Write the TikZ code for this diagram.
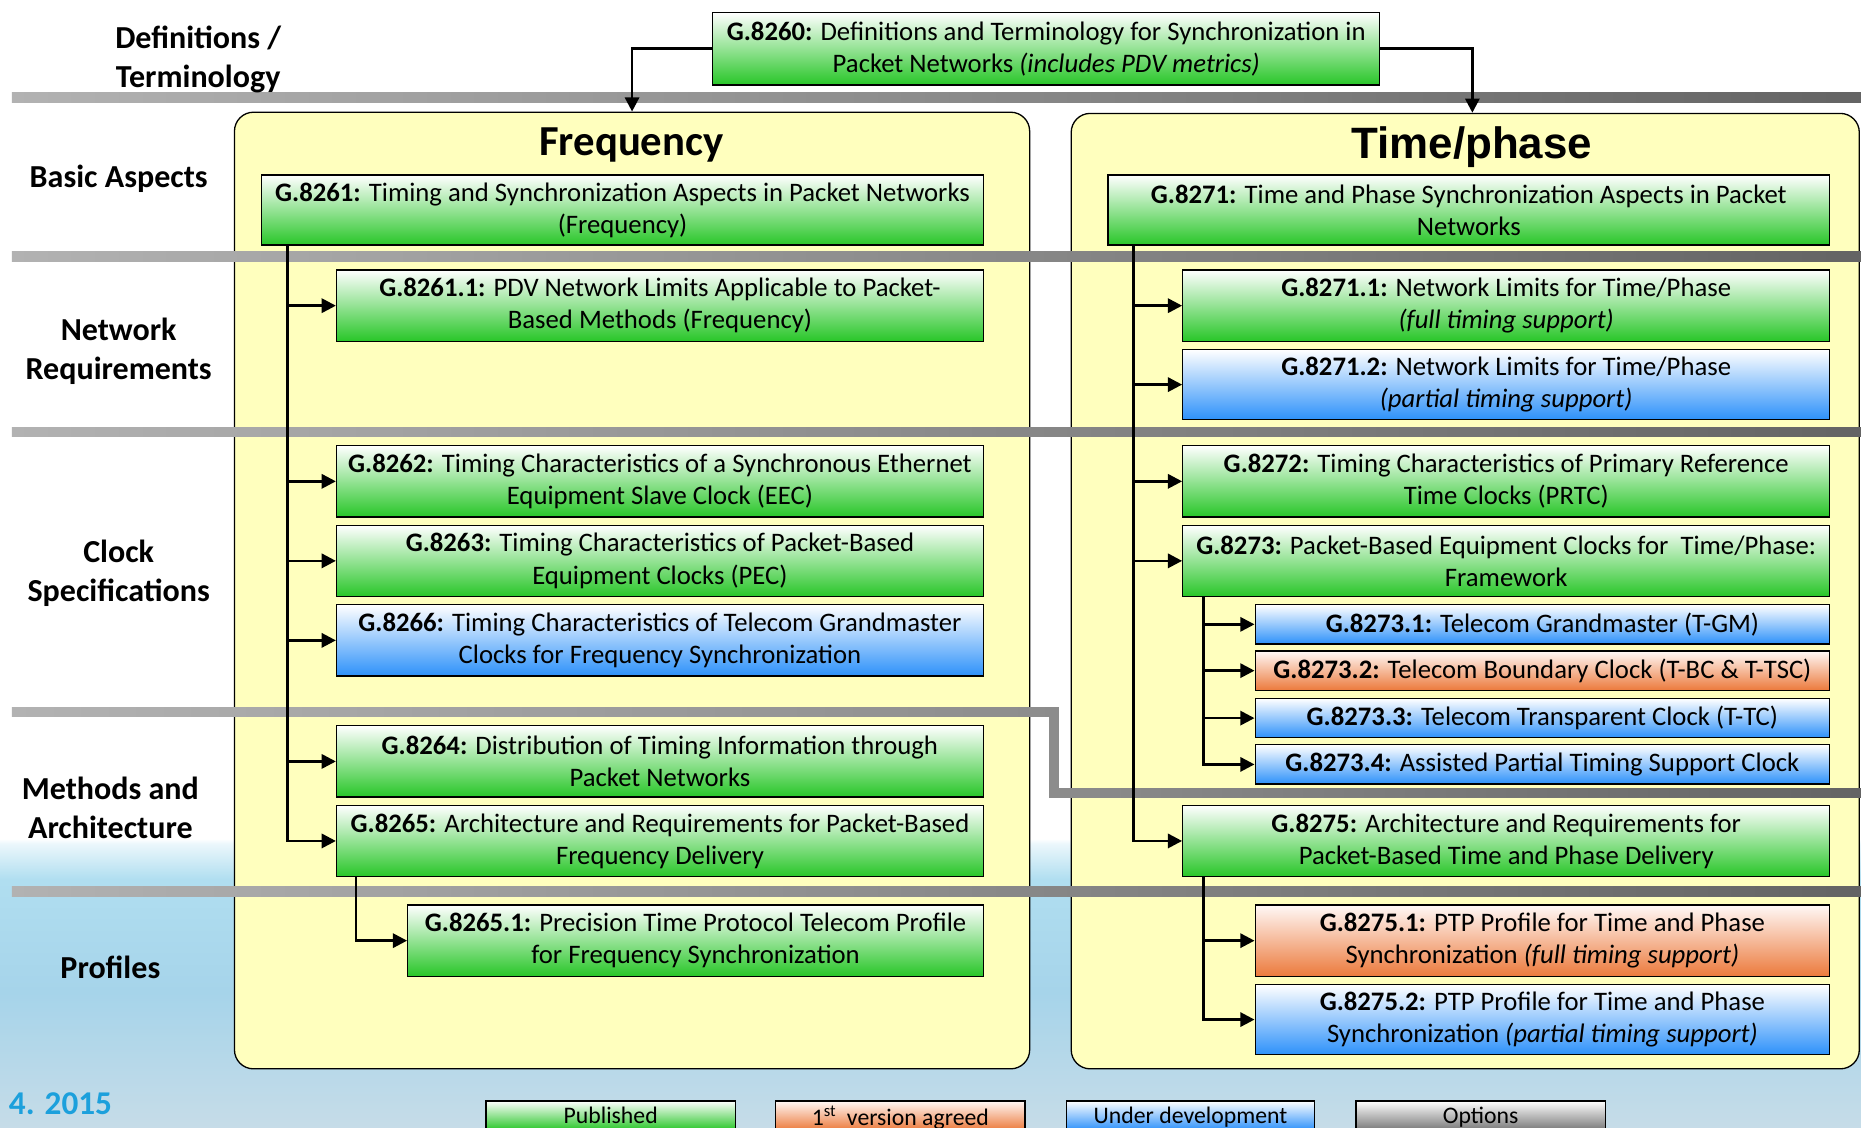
\documentclass[tikz,border=0pt]{standalone}
\usepackage{fontspec}
\setmainfont{Carlito}
\newfontfamily\arialfont{Liberation Sans}
\usetikzlibrary{arrows.meta}

\definecolor{gbot}{RGB}{40,198,40}
\definecolor{bbot}{RGB}{45,145,250}
\definecolor{obot}{RGB}{236,122,60}
\definecolor{otop}{RGB}{255,248,246}
\definecolor{kbot}{RGB}{120,120,120}
\definecolor{panelyellow}{RGB}{255,255,190}
\definecolor{barlight}{RGB}{178,178,178}
\definecolor{barmid}{RGB}{140,140,140}
\definecolor{bardark}{RGB}{100,100,100}
\definecolor{dateblue}{RGB}{28,160,220}
\definecolor{waterA}{RGB}{236,247,252}
\definecolor{waterB}{RGB}{176,222,240}
\definecolor{waterC}{RGB}{166,212,234}
\definecolor{waterD}{RGB}{198,220,232}

% sky/water backdrop: white at the top, light blue towards the bottom
\pgfdeclareverticalshading{backdrop}{100bp}{%
  color(0bp)=(waterD); color(25bp)=(waterD); color(31bp)=(waterC);
  color(36bp)=(waterB); color(37.6bp)=(waterA); color(37.8bp)=(white);
  color(100bp)=(white)}

\begin{document}
\begin{tikzpicture}[x=1pt,y=-1pt,
  box/.style={draw=black, line width=1.1pt, align=center, inner sep=0pt,
    anchor=north west, font=\fontsize{22.5}{27}\selectfont},
  gbox/.style={box, top color=white, bottom color=gbot},
  bbox/.style={box, top color=white, bottom color=bbot},
  obox/.style={box, top color=otop, bottom color=obot},
  kbox/.style={box, top color=white, bottom color=kbot},
  legbox/.style={minimum height=24.5pt, text depth=0pt, font=\fontsize{20}{24}\selectfont},
  lbl/.style={align=center, font=\fontsize{27}{33}\selectfont\bfseries},
  panel/.style={draw=black, line width=1.1pt, fill=panelyellow,
    rounded corners=16pt, anchor=north west, inner sep=0pt},
  arr/.style={line width=2.2pt, -{Triangle[length=12pt,width=12pt]}},
  title/.style={font=\fontsize{36}{42}\selectfont\bfseries}]

\clip (0,0) rectangle (1568,950);
\shade[shading=backdrop] (0,0) rectangle (1568,950);

% column panels
\node[panel, minimum width=670pt, minimum height=806pt] (freqpanel) at (197,94) {};
\node[panel, minimum width=664pt, minimum height=805pt] (timepanel) at (902,95) {};
\node[title] (freqtitle) at (532,122) {Frequency};
\node[font=\fontsize{37}{42}\selectfont\arialfont\bfseries] (timetitle) at (1240,124) {Time/phase};

% layer separators
\shade[left color=barlight, right color=bardark] (10,78) rectangle (1568,86);
\shade[left color=barlight, right color=bardark] (10,212) rectangle (1568,220);
\shade[left color=barlight, right color=bardark] (10,360) rectangle (1568,368);
\shade[left color=barlight, right color=barmid] (10,596) rectangle (892,604);
\fill[barmid] (884,596) rectangle (892,672);
\shade[left color=barmid, right color=bardark] (884,664) rectangle (1568,672);
\shade[left color=barlight, right color=bardark] (10,747) rectangle (1568,755);

% layer names
\node[lbl] (ldef) at (167,50) {Definitions /\\Terminology};
\node[lbl] (lbasic) at (100,151) {Basic Aspects};
\node[lbl] (lnet) at (100,296) {Network\\Requirements};
\node[lbl] (lclock) at (100,483) {Clock\\Specifications};
\node[lbl] (lmeth) at (93,681) {Methods and\\Architecture};
\node[lbl] (lprof) at (93,815) {Profiles};
\node[anchor=west, text=dateblue, font=\fontsize{28}{32}\selectfont\bfseries] (date) at (4,930) {4. 2015};

% definitions
\node[gbox, minimum width=562pt, minimum height=61pt] (n8260) at (600,10)
  {\textbf{G.8260:} Definitions and Terminology for Synchronization in\\Packet Networks \textit{(includes PDV metrics)}};

% frequency column
\node[gbox, minimum width=608pt, minimum height=59pt] (n8261) at (220,147)
  {\textbf{G.8261:} Timing and Synchronization Aspects in Packet Networks\\(Frequency)};
\node[gbox, minimum width=545pt, minimum height=60pt] (n8261a) at (283,227)
  {\textbf{G.8261.1:} PDV Network Limits Applicable to Packet-\\Based Methods (Frequency)};
\node[gbox, minimum width=545pt, minimum height=60pt] (n8262) at (283,375)
  {\textbf{G.8262:} Timing Characteristics of a Synchronous Ethernet\\Equipment Slave Clock (EEC)};
\node[gbox, minimum width=545pt, minimum height=60pt] (n8263) at (283,442)
  {\textbf{G.8263:} Timing Characteristics of Packet-Based\\Equipment Clocks (PEC)};
\node[bbox, minimum width=545pt, minimum height=60pt] (n8266) at (283,509)
  {\textbf{G.8266:} Timing Characteristics of Telecom Grandmaster\\Clocks for Frequency Synchronization};
\node[gbox, minimum width=545pt, minimum height=60pt] (n8264) at (283,611)
  {\textbf{G.8264:} Distribution of Timing Information through\\Packet Networks};
\node[gbox, minimum width=545pt, minimum height=60pt] (n8265) at (283,678)
  {\textbf{G.8265:} Architecture and Requirements for Packet-Based\\Frequency Delivery};
\node[gbox, minimum width=485pt, minimum height=60pt] (n8265a) at (343,762)
  {\textbf{G.8265.1:} Precision Time Protocol Telecom Profile\\for Frequency Synchronization};

% time/phase column
\node[gbox, minimum width=608pt, minimum height=59pt] (n8271) at (933,147)
  {\textbf{G.8271:} Time and Phase Synchronization Aspects in Packet\\Networks};
\node[gbox, minimum width=545pt, minimum height=60pt] (n8271a) at (996,227)
  {\textbf{G.8271.1:} Network Limits for Time/Phase\\\textit{(full timing support)}};
\node[bbox, minimum width=545pt, minimum height=59pt] (n8271b) at (996,294)
  {\textbf{G.8271.2:} Network Limits for Time/Phase\\\textit{(partial timing support)}};
\node[gbox, minimum width=545pt, minimum height=60pt] (n8272) at (996,375)
  {\textbf{G.8272:} Timing Characteristics of Primary Reference\\Time Clocks (PRTC)};
\node[gbox, minimum width=545pt, minimum height=60pt] (n8273) at (996,442)
  {\textbf{G.8273:} Packet-Based Equipment Clocks for\ \ Time/Phase:\\Framework};
\node[bbox, minimum width=484pt, minimum height=33pt] (n8273a) at (1057,509)
  {\textbf{G.8273.1:} Telecom Grandmaster (T-GM)};
\node[obox, minimum width=484pt, minimum height=33pt] (n8273b) at (1057,548)
  {\textbf{G.8273.2:} Telecom Boundary Clock (T-BC \& T-TSC)};
\node[bbox, minimum width=484pt, minimum height=33pt] (n8273c) at (1057,588)
  {\textbf{G.8273.3:} Telecom Transparent Clock (T-TC)};
\node[bbox, minimum width=484pt, minimum height=33pt] (n8273d) at (1057,627)
  {\textbf{G.8273.4:} Assisted Partial Timing Support Clock};
\node[gbox, minimum width=545pt, minimum height=60pt] (n8275) at (996,678)
  {\textbf{G.8275:} Architecture and Requirements for\\Packet-Based Time and Phase Delivery};
\node[obox, minimum width=484pt, minimum height=60pt] (n8275a) at (1057,762)
  {\textbf{G.8275.1:} PTP Profile for Time and Phase\\Synchronization \textit{(full timing support)}};
\node[bbox, minimum width=484pt, minimum height=59pt] (n8275b) at (1057,829)
  {\textbf{G.8275.2:} PTP Profile for Time and Phase\\Synchronization \textit{(partial timing support)}};

% legend
\node[gbox, legbox, minimum width=210pt] (legpub) at (409,927) {Published};
\node[obox, legbox, minimum width=210pt] (legagr) at (653,927) {1\textsuperscript{st}\ \ version agreed};
\node[bbox, legbox, minimum width=209pt] (legdev) at (898,927) {Under development};
\node[kbox, legbox, minimum width=210pt] (legopt) at (1142,927) {Options};

% connectors
\draw[arr] (n8260.west) -| (freqpanel.north);
\draw[arr] (n8260.east) -| ([xshift=6pt]timepanel.north);

\foreach \t in {n8261a,n8262,n8263,n8266,n8264,n8265}
  \draw[arr] (n8261.south west) ++(22,0) |- (\t.west);
\draw[arr] (n8265.south west) ++(17,0) |- (n8265a.west);

\foreach \t in {n8271a,n8271b,n8272,n8273,n8275}
  \draw[arr] (n8271.south west) ++(22,0) |- (\t.west);
\foreach \t in {n8273a,n8273b,n8273c,n8273d}
  \draw[arr] (n8273.south west) ++(18,0) |- (\t.west);
\foreach \t in {n8275a,n8275b}
  \draw[arr] (n8275.south west) ++(18,0) |- (\t.west);
\end{tikzpicture}
\end{document}
